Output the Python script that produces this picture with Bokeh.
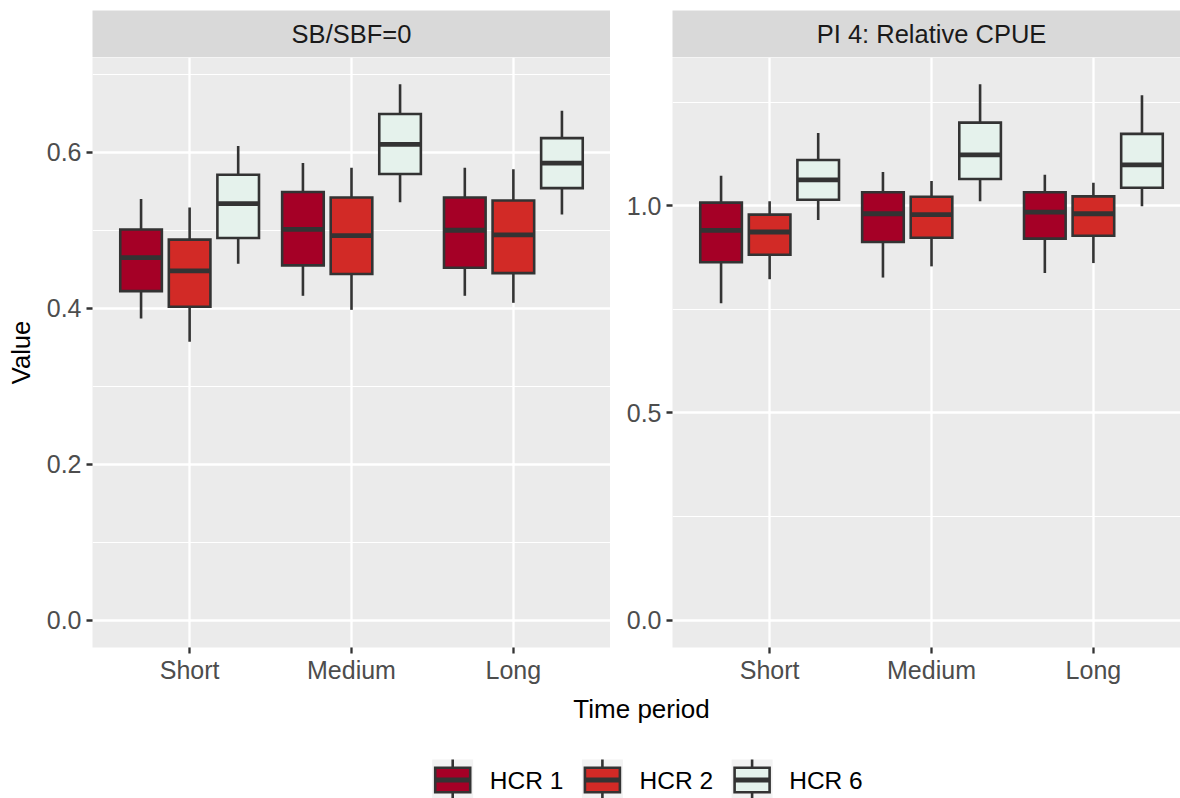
from bokeh.plotting import figure
from bokeh.models import Range1d, FixedTicker, PrintfTickFormatter, ColumnDataSource
from bokeh.layouts import column, row
from bokeh.core.properties import value
from bokeh.embed import file_html
from bokeh.resources import INLINE

# ---------------- data ----------------
periods = ["Short", "Medium", "Long"]
hcrs = ["HCR 1", "HCR 2", "HCR 6"]
hcr_colors = ["#a50026", "#d22a26", "#e5f2ec"]
panel_titles = ["SB/SBF=0", "PI 4: Relative CPUE"]
x_title = "Time period"
y_title = "Value"

# order: Short(HCR1, HCR2, HCR6), Medium(...), Long(...)
sb_upper = [0.540, 0.529, 0.608, 0.586, 0.580, 0.687, 0.580, 0.578, 0.653]
sb_q3    = [0.501, 0.488, 0.571, 0.549, 0.542, 0.649, 0.542, 0.538, 0.618]
sb_med   = [0.465, 0.448, 0.534, 0.501, 0.493, 0.610, 0.500, 0.494, 0.586]
sb_q1    = [0.422, 0.402, 0.490, 0.455, 0.444, 0.572, 0.452, 0.445, 0.554]
sb_lower = [0.387, 0.357, 0.457, 0.416, 0.398, 0.536, 0.416, 0.407, 0.520]

cpue_upper = [1.073, 1.011, 1.176, 1.082, 1.060, 1.294, 1.075, 1.056, 1.267]
cpue_q3    = [1.008, 0.979, 1.111, 1.033, 1.022, 1.201, 1.033, 1.023, 1.174]
cpue_med   = [0.941, 0.937, 1.063, 0.981, 0.979, 1.123, 0.985, 0.981, 1.099]
cpue_q1    = [0.864, 0.882, 1.015, 0.913, 0.923, 1.065, 0.921, 0.928, 1.044]
cpue_lower = [0.765, 0.823, 0.966, 0.827, 0.854, 1.011, 0.838, 0.862, 0.999]

sb_ticks, sb_minor = [0.0, 0.2, 0.4, 0.6], [0.1, 0.3, 0.5, 0.7]
cpue_ticks, cpue_minor = [0.0, 0.5, 1.0], [0.25, 0.75, 1.25]

# ---------------- style ----------------
FONT = "Liberation Sans"
DARK = "#333333"
PANEL_BG = "#ebebeb"
STRIP_BG = "#d9d9d9"
DODGE = 0.3
BOX_W = 0.257
LW = 2.6
MED_LW = 4.8


def make_source(lower, q1, med, q3, upper):
    xs, cols = [], []
    for i, _ in enumerate(periods):
        for j, _ in enumerate(hcrs):
            xs.append(i + 1 + (j - 1) * DODGE)
            cols.append(hcr_colors[j])
    return ColumnDataSource(dict(
        x=xs, x0=[x - BOX_W / 2 for x in xs], x1=[x + BOX_W / 2 for x in xs],
        lower=lower, q1=q1, med=med, q3=q3, upper=upper, color=cols))


def make_strip(title, width, left_border, xr):
    s = figure(width=width, height=57, x_range=xr, y_range=Range1d(0, 1),
               min_border_left=left_border, min_border_right=0,
               min_border_top=10, min_border_bottom=0,
               x_axis_type=None, y_axis_type=None, title=None,
               background_fill_color=STRIP_BG, border_fill_color="white",
               outline_line_color=None, toolbar_location=None,
               output_backend="svg")
    s.text(x=[2], y=[0.5], text=[title], text_align="center",
           text_baseline="middle", text_font=value(FONT),
           text_font_size="25.5px", text_color="#1a1a1a")
    return s


def make_panel(src, width, left_border, xr, yr, ticks, minor, ylabel=None):
    p = figure(width=width, height=633, x_range=xr, y_range=yr,
               min_border_left=left_border, min_border_right=0,
               min_border_top=0, min_border_bottom=43, title=None,
               background_fill_color=PANEL_BG, border_fill_color="white",
               outline_line_color=None, toolbar_location=None,
               output_backend="svg")
    p.segment(x0="x", y0="q3", x1="x", y1="upper", source=src,
              line_color=DARK, line_width=LW)
    p.segment(x0="x", y0="q1", x1="x", y1="lower", source=src,
              line_color=DARK, line_width=LW)
    p.vbar(x="x", width=BOX_W, top="q3", bottom="q1", source=src,
           fill_color="color", line_color=DARK, line_width=LW,
           line_join="miter")
    p.segment(x0="x0", y0="med", x1="x1", y1="med", source=src,
              line_color=DARK, line_width=MED_LW)

    p.xaxis.ticker = FixedTicker(ticks=[i + 1 for i in range(len(periods))])
    p.xaxis.major_label_overrides = {i + 1: n for i, n in enumerate(periods)}
    p.yaxis.ticker = FixedTicker(ticks=ticks, minor_ticks=minor)
    p.yaxis.formatter = PrintfTickFormatter(format="%.1f")
    for ax in (p.xaxis, p.yaxis):
        ax.axis_line_color = None
        ax.major_tick_line_color = DARK
        ax.major_tick_line_width = 2.3
        ax.major_tick_in = 0
        ax.major_tick_out = 6
        ax.minor_tick_line_color = None
        ax.major_label_text_font = FONT
        ax.major_label_text_font_size = "25px"
        ax.major_label_text_color = "#4d4d4d"
    p.xaxis.major_label_standoff = 2
    p.yaxis.major_label_standoff = 5
    if ylabel:
        p.yaxis.axis_label = ylabel
        p.yaxis.axis_label_text_font = FONT
        p.yaxis.axis_label_text_font_size = "25.5px"
        p.yaxis.axis_label_text_font_style = "normal"
        p.yaxis.axis_label_text_color = "black"
        p.yaxis.axis_label_standoff = 9
    p.xgrid.grid_line_color = "white"
    p.xgrid.grid_line_width = 2.3
    p.ygrid.grid_line_color = "white"
    p.ygrid.grid_line_width = 2.3
    p.ygrid.minor_grid_line_color = "white"
    p.ygrid.minor_grid_line_width = 1.2
    return p


xr_left = Range1d(0.4, 3.6)
xr_right = Range1d(0.4, 3.538)   # right panel is cut by the image edge

left = make_panel(make_source(sb_lower, sb_q1, sb_med, sb_q3, sb_upper),
                  610, 92, xr_left, Range1d(-0.0346, 0.7213),
                  sb_ticks, sb_minor, ylabel=y_title)
right = make_panel(make_source(cpue_lower, cpue_q1, cpue_med, cpue_q3, cpue_upper),
                   570, 62, xr_right, Range1d(-0.0662, 1.3583),
                   cpue_ticks, cpue_minor)
strip_l = make_strip(panel_titles[0], 610, 92, xr_left)
strip_r = make_strip(panel_titles[1], 570, 62, xr_right)

# ---------------- bottom: axis title + legend ----------------
bot = figure(width=1180, height=108, x_range=Range1d(0, 1180),
             y_range=Range1d(798, 690), min_border_left=0, min_border_right=0,
             min_border_top=0, min_border_bottom=0, x_axis_type=None,
             y_axis_type=None, title=None, background_fill_color="white",
             border_fill_color="white", outline_line_color=None,
             toolbar_location=None, output_backend="svg")
bot.text(x=[641], y=[708], text=[x_title], text_align="center",
         text_baseline="alphabetic", text_font=value(FONT),
         text_font_size="26px", text_color="black")

KEY0, STEP, KEY, KEY_Y = 431.7, 149.7, 41.0, 779.5
kx = [KEY0 + k * STEP + KEY / 2 for k in range(len(hcrs))]
leg = ColumnDataSource(dict(
    x=kx, y=[KEY_Y] * len(hcrs), x0=[x - 17.5 for x in kx], x1=[x + 17.5 for x in kx],
    tx=[KEY0 + k * STEP + KEY + 16.6 for k in range(len(hcrs))],
    label=hcrs, color=hcr_colors,
    wt=[KEY_Y - KEY / 2] * len(hcrs), wb=[KEY_Y + KEY / 2] * len(hcrs)))
bot.rect(x="x", y="y", width=KEY, height=KEY, source=leg,
         fill_color="#f2f2f2", line_color=None)
bot.segment(x0="x", y0="wt", x1="x", y1="wb", source=leg,
            line_color=DARK, line_width=LW)
bot.rect(x="x", y="y", width=35, height=24.4, source=leg, fill_color="color",
         line_color=DARK, line_width=LW, line_join="miter")
bot.segment(x0="x0", y0="y", x1="x1", y1="y", source=leg,
            line_color=DARK, line_width=MED_LW)
bot.text(x="tx", y="y", text="label", source=leg, text_align="left",
         text_baseline="middle", text_font=value(FONT),
         text_font_size="24.5px", text_color="black")

layout = column(row(strip_l, strip_r), row(left, right), bot)
open("out.html", "w").write(file_html(layout, INLINE))
